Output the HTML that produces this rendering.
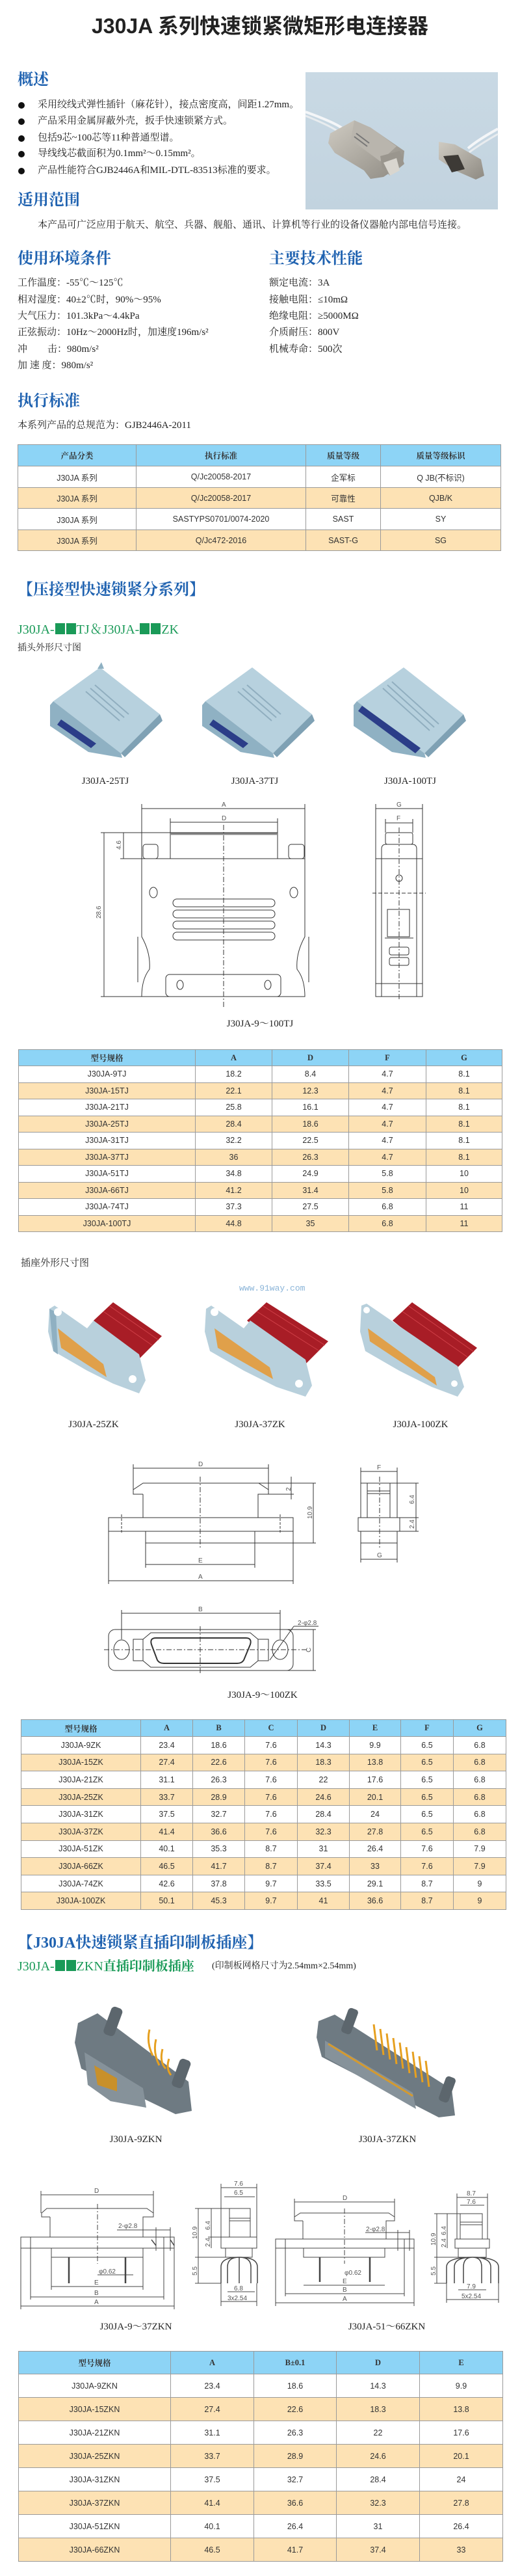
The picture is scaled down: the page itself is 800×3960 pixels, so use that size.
<!DOCTYPE html>
<html><head><meta charset="utf-8">
<style>
*{margin:0;padding:0;box-sizing:border-box}
body{width:800px;height:3960px;background:#fff;position:relative;overflow:hidden;font-family:"Liberation Serif","Noto Serif CJK SC",serif;color:#222}
.t{position:absolute;white-space:nowrap;line-height:1}
.h{font-family:"Liberation Serif","Noto Serif CJK SC",serif;font-weight:bold;color:#1f62b0;font-size:24px}
.b{font-size:15px}
.dot{position:absolute;left:28px;width:10px;height:10px;border-radius:50%;background:#111}
.g{color:#1a9a58;font-size:20px}
.sq{display:inline-block;width:15px;height:17px;background:#1a9a58;margin:0 1px;vertical-align:-1px}
table{position:absolute;border-collapse:collapse;table-layout:fixed;font-family:"Liberation Sans Narrow","Liberation Sans","Noto Sans CJK SC",sans-serif;font-size:12.5px;color:#333}
td{border:1px solid #9a9a9a;text-align:center;padding:0;overflow:hidden;white-space:nowrap}
tr.hd td{background:#8dd4f6;font-family:"Liberation Serif","Noto Serif CJK SC",serif;font-weight:bold}
tr.o td{background:#fde2b4}
svg{position:absolute;left:0;top:0}
</style></head><body>

<svg width="800" height="3960" viewBox="0 0 800 3960">
<defs>
<linearGradient id="ph" x1="0" y1="0" x2="0" y2="1"><stop offset="0" stop-color="#c9d9e4"/><stop offset="1" stop-color="#c2d3df"/></linearGradient>
<linearGradient id="met" x1="0" y1="0" x2="1" y2="1"><stop offset="0" stop-color="#cfcbc2"/><stop offset="1" stop-color="#8e8a82"/></linearGradient>
</defs>
<!-- photo -->
<rect x="470" y="111" width="296" height="211" fill="url(#ph)"/>
<path d="M470 172 Q520 190 530 200" stroke="#f4f6f8" stroke-width="4" fill="none"/>
<path d="M470 178 Q515 196 525 206" stroke="#e8ecef" stroke-width="3" fill="none"/>
<path d="M766 198 Q735 215 720 228" stroke="#f4f6f8" stroke-width="4" fill="none"/>
<path d="M766 206 Q738 222 722 234" stroke="#e8ecef" stroke-width="3" fill="none"/>
<polygon points="508,205 545,185 570,196 622,232 620,252 590,272 570,275 560,262 515,235 505,220" fill="url(#met)"/>
<polygon points="545,185 570,196 610,225 585,248 540,215" fill="#b9b5ad"/>
<polygon points="585,240 615,232 622,252 600,270 588,258" fill="#9a968e"/>
<polygon points="590,250 610,243 615,262 600,270" fill="#d9d6cf"/>
<line x1="548" y1="205" x2="568" y2="220" stroke="#777" stroke-width="2"/>
<line x1="545" y1="210" x2="565" y2="225" stroke="#777" stroke-width="2"/>
<polygon points="675,218 700,222 740,245 745,270 732,276 700,262 675,245" fill="url(#met)"/>
<polygon points="682,240 705,238 715,260 695,265" fill="#3d3a36"/>

<!-- TJ images -->
<g id="tj1" transform="translate(74,1018)">
<polygon points="8,60 80,8 172,80 112,140" fill="#b7d1de"/>
<polygon points="8,60 112,140 114,147 62,138 3,98 3,66" fill="#8fb1c3"/>
<polygon points="172,80 176,90 118,146 112,140" fill="#7fa1b4"/>
<polygon points="14,96 66,132 74,125 20,88" fill="#2b3d88"/>
<line x1="58" y1="45" x2="110" y2="90" stroke="#90aebf" stroke-width="2"/>
<line x1="65" y1="40" x2="117" y2="85" stroke="#90aebf" stroke-width="2"/>
<line x1="72" y1="35" x2="124" y2="80" stroke="#90aebf" stroke-width="2"/>
<polygon points="76,10 82,0 86,10" fill="#8fb1c3"/>
</g>
<g transform="translate(308,1018)"><polygon points="8,60 80,8 172,80 112,140" fill="#b7d1de"/><polygon points="8,60 112,140 114,147 62,138 3,98 3,66" fill="#8fb1c3"/><polygon points="172,80 176,90 118,146 112,140" fill="#7fa1b4"/><polygon points="14,96 66,132 74,125 20,88" fill="#2b3d88"/><line x1="58" y1="45" x2="110" y2="90" stroke="#90aebf" stroke-width="2"/><line x1="65" y1="40" x2="117" y2="85" stroke="#90aebf" stroke-width="2"/><line x1="72" y1="35" x2="124" y2="80" stroke="#90aebf" stroke-width="2"/></g>
<g transform="translate(541,1018)"><polygon points="8,60 80,8 172,80 112,140" fill="#b7d1de"/><polygon points="8,60 112,140 114,147 62,138 3,98 3,66" fill="#8fb1c3"/><polygon points="172,80 176,90 118,146 112,140" fill="#7fa1b4"/><polygon points="10,75 98,140 106,132 16,67" fill="#2b3d88"/><line x1="48" y1="40" x2="120" y2="105" stroke="#90aebf" stroke-width="2"/><line x1="55" y1="35" x2="127" y2="100" stroke="#90aebf" stroke-width="2"/><line x1="62" y1="30" x2="134" y2="95" stroke="#90aebf" stroke-width="2"/></g>

<!-- TJ drawing -->
<g stroke="#333" stroke-width="1" fill="none">
<line x1="218" y1="1243" x2="469" y2="1243"/><line x1="218" y1="1236" x2="218" y2="1320"/><line x1="469" y1="1236" x2="469" y2="1320"/>
<line x1="262" y1="1264" x2="427" y2="1264"/><line x1="262" y1="1258" x2="262" y2="1280"/><line x1="427" y1="1258" x2="427" y2="1280"/>
<rect x="262" y="1280" width="165" height="40"/><line x1="262" y1="1282" x2="427" y2="1282" stroke="#888" stroke-width="3"/>
<rect x="220" y="1298" width="23" height="22" rx="4"/><rect x="444" y="1298" width="24" height="22" rx="4"/>
<path d="M218 1320 L469 1320 L469 1440 Q455 1465 457 1490 Q469 1505 469 1532 L218 1532 Q218 1505 230 1490 Q232 1465 218 1440 Z"/>
<ellipse cx="236" cy="1372" rx="6" ry="8"/><ellipse cx="452" cy="1372" rx="6" ry="8"/>
<rect x="266" y="1382" width="157" height="12" rx="6"/><rect x="266" y="1399" width="157" height="12" rx="6"/><rect x="266" y="1416" width="157" height="12" rx="6"/><rect x="266" y="1433" width="157" height="12" rx="6"/>
<rect x="255" y="1498" width="177" height="34" rx="6"/><ellipse cx="277" cy="1514" rx="5" ry="7"/><ellipse cx="412" cy="1514" rx="5" ry="7"/>
<line x1="212" y1="1440" x2="212" y2="1510"/><line x1="475" y1="1440" x2="475" y2="1510"/>
<line x1="344" y1="1268" x2="344" y2="1550" stroke-dasharray="8,3,2,3"/>
<line x1="160" y1="1280" x2="160" y2="1532"/><line x1="155" y1="1280" x2="262" y2="1280"/><line x1="155" y1="1532" x2="218" y2="1532"/>
<line x1="190" y1="1280" x2="190" y2="1320"/><line x1="185" y1="1320" x2="218" y2="1320"/>
<line x1="578" y1="1243" x2="650" y2="1243"/><line x1="578" y1="1236" x2="578" y2="1320"/><line x1="650" y1="1236" x2="650" y2="1320"/>
<line x1="593" y1="1265" x2="635" y2="1265"/><line x1="593" y1="1259" x2="593" y2="1280"/><line x1="635" y1="1259" x2="635" y2="1280"/>
<rect x="593" y="1280" width="42" height="18" rx="3"/>
<path d="M587 1532 L587 1305 Q587 1298 594 1298 L634 1298 Q641 1298 641 1305 L641 1532"/>
<rect x="578" y="1320" width="72" height="212"/>
<circle cx="614" cy="1350" r="5"/>
<line x1="573" y1="1373" x2="655" y2="1373" stroke-dasharray="6,3"/>
<rect x="596" y="1398" width="34" height="42"/><line x1="592" y1="1442" x2="636" y2="1442"/>
<rect x="599" y="1456" width="30" height="12" rx="3"/><rect x="599" y="1472" width="30" height="12" rx="3"/>
<line x1="578" y1="1512" x2="650" y2="1512"/>
<line x1="614" y1="1272" x2="614" y2="1538" stroke-dasharray="8,3,2,3"/>
</g>

<!-- ZK images -->
<g transform="translate(74,2002)">
<polygon points="70,28 100,0 175,52 135,92" fill="#a81d26"/>
<line x1="85" y1="14" x2="160" y2="66" stroke="#d04048" stroke-width="1"/><line x1="95" y1="6" x2="170" y2="58" stroke="#d04048" stroke-width="1"/>
<polygon points="2,10 10,5 60,40 70,28 140,80 150,120 140,140 100,125 60,105 8,75 0,45" fill="#b8d0dc"/>
<polygon points="15,40 85,95 90,115 20,70" fill="#e0a04a"/>
<polygon points="2,10 8,75 15,80 12,15" fill="#8fb0c2"/>
<circle cx="15" cy="15" r="6" fill="#fff"/><circle cx="130" cy="118" r="6" fill="#fff"/>
</g>
<g transform="translate(315,2002)">
<polygon points="65,28 95,0 190,60 150,100" fill="#a81d26"/>
<line x1="80" y1="14" x2="175" y2="74" stroke="#d04048"/><line x1="90" y1="6" x2="185" y2="66" stroke="#d04048"/>
<polygon points="2,10 10,5 60,40 70,28 155,88 165,128 155,145 110,130 60,105 8,75 0,45" fill="#b8d0dc"/>
<polygon points="15,40 100,100 105,118 20,70" fill="#e0a04a"/>
<circle cx="15" cy="15" r="6" fill="#fff"/><circle cx="145" cy="125" r="6" fill="#fff"/>
</g>
<g transform="translate(554,2002)">
<polygon points="50,28 80,0 180,70 145,105" fill="#a81d26"/>
<line x1="65" y1="14" x2="165" y2="84" stroke="#d04048"/><line x1="75" y1="6" x2="175" y2="76" stroke="#d04048"/>
<polygon points="2,5 10,2 150,98 160,130 150,145 110,130 60,105 8,75 0,45" fill="#b8d0dc"/>
<polygon points="12,40 115,115 118,128 15,60" fill="#e0a04a"/>
<circle cx="10" cy="12" r="5" fill="#fff"/><circle cx="145" cy="125" r="5" fill="#fff"/>
</g>

<!-- ZK drawing -->
<g stroke="#333" stroke-width="1" fill="none">
<line x1="205" y1="2257" x2="413" y2="2257"/><line x1="205" y1="2251" x2="205" y2="2290"/><line x1="413" y1="2251" x2="413" y2="2290"/>
<path d="M220 2297 L205 2297 L205 2290 L220 2280 L398 2280 L413 2290 L413 2297 L397 2297 L397 2333 M220 2297 L220 2333"/>
<rect x="167" y="2333" width="284" height="21"/>
<rect x="224" y="2354" width="168" height="18"/>
<line x1="187" y1="2328" x2="187" y2="2358" stroke-dasharray="4,2"/><line x1="431" y1="2328" x2="431" y2="2358" stroke-dasharray="4,2"/>
<line x1="308" y1="2270" x2="308" y2="2380" stroke-dasharray="8,3,2,3"/>
<line x1="482" y1="2280" x2="482" y2="2372"/><line x1="398" y1="2280" x2="486" y2="2280"/><line x1="392" y1="2372" x2="486" y2="2372"/>
<line x1="448" y1="2270" x2="448" y2="2305"/><line x1="413" y1="2297" x2="452" y2="2297"/>
<line x1="224" y1="2372" x2="224" y2="2410"/><line x1="392" y1="2372" x2="392" y2="2410"/><line x1="224" y1="2405" x2="392" y2="2405"/>
<line x1="167" y1="2354" x2="167" y2="2435"/><line x1="451" y1="2354" x2="451" y2="2435"/><line x1="167" y1="2430" x2="451" y2="2430"/>
<line x1="555" y1="2262" x2="611" y2="2262"/><line x1="555" y1="2256" x2="555" y2="2280"/><line x1="611" y1="2256" x2="611" y2="2280"/>
<rect x="555" y="2280" width="56" height="53"/><line x1="565" y1="2280" x2="565" y2="2333"/><line x1="600" y1="2280" x2="600" y2="2333"/>
<line x1="565" y1="2292" x2="600" y2="2292"/><line x1="565" y1="2296" x2="600" y2="2296"/>
<rect x="551" y="2333" width="64" height="21"/><rect x="555" y="2354" width="56" height="18"/>
<line x1="584" y1="2270" x2="584" y2="2380" stroke-dasharray="8,3,2,3"/>
<line x1="640" y1="2280" x2="640" y2="2354"/><line x1="611" y1="2280" x2="644" y2="2280"/><line x1="615" y1="2333" x2="644" y2="2333"/><line x1="615" y1="2354" x2="644" y2="2354"/>
<line x1="555" y1="2372" x2="555" y2="2402"/><line x1="611" y1="2372" x2="611" y2="2402"/><line x1="555" y1="2397" x2="611" y2="2397"/>
<line x1="187" y1="2480" x2="431" y2="2480"/><line x1="187" y1="2475" x2="187" y2="2520"/><line x1="431" y1="2475" x2="431" y2="2520"/>
<rect x="167" y="2505" width="284" height="63" rx="10"/>
<ellipse cx="187" cy="2536" rx="12" ry="15"/><ellipse cx="431" cy="2536" rx="12" ry="15"/>
<path d="M205 2520 L220 2520 L232 2510 L385 2510 L397 2520 L413 2520 L413 2553 L397 2553 L385 2563 L232 2563 L220 2553 L205 2553 Z"/>
<path d="M240 2518 L378 2518 Q388 2518 385 2528 L375 2552 Q372 2557 365 2557 L252 2557 Q245 2557 242 2552 L233 2528 Q230 2518 240 2518 Z" stroke-width="2"/>
<line x1="220" y1="2520" x2="220" y2="2553"/><line x1="397" y1="2520" x2="397" y2="2553"/>
<line x1="160" y1="2536" x2="475" y2="2536" stroke-dasharray="8,3,2,3"/>
<line x1="308" y1="2500" x2="308" y2="2575" stroke-dasharray="8,3,2,3"/>
<line x1="482" y1="2505" x2="482" y2="2568"/><line x1="440" y1="2505" x2="486" y2="2505"/><line x1="440" y1="2568" x2="486" y2="2568"/>
<line x1="415" y1="2552" x2="452" y2="2500"/><line x1="452" y1="2500" x2="490" y2="2500"/>
</g>

<!-- ZKN images -->
<g transform="translate(110,3080)">
<polygon points="10,30 40,15 180,120 185,165 160,170 15,100 5,60" fill="#6e7a82"/>
<polygon points="20,75 110,130 115,160 60,150 25,125" fill="#86929a"/>
<polygon points="35,95 70,115 70,135 40,125" fill="#c8902a"/>
<rect x="55" y="5" width="18" height="45" rx="6" fill="#5c666d" transform="rotate(20 64 27)"/>
<rect x="160" y="85" width="18" height="45" rx="6" fill="#5c666d" transform="rotate(20 169 107)"/>
<path d="M120 40 q-5 20 5 40 M130 55 q-5 20 5 40 M140 70 q-5 20 5 30 M150 85 q-5 15 3 25" stroke="#e6a020" stroke-width="3" fill="none"/>
</g>
<g transform="translate(485,3082)">
<polygon points="5,25 30,15 210,130 215,170 190,173 10,80 2,50" fill="#6e7a82"/>
<polygon points="15,55 150,135 155,160 15,80" fill="#86929a"/>
<line x1="20" y1="60" x2="150" y2="140" stroke="#d49a30" stroke-width="3"/>
<rect x="45" y="5" width="16" height="40" rx="5" fill="#5c666d" transform="rotate(20 53 25)"/>
<rect x="195" y="110" width="16" height="40" rx="5" fill="#5c666d" transform="rotate(20 203 130)"/>
<path d="M90 30 l5 40 M100 37 l5 40 M110 44 l5 40 M120 51 l5 40 M130 58 l5 40 M140 65 l5 40 M150 72 l5 40 M160 79 l5 40 M170 86 l5 40" stroke="#e6a020" stroke-width="3"/>
</g>

<!-- ZKN drawings -->
<g stroke="#444" stroke-width="1" fill="none">
<line x1="63" y1="3374" x2="236" y2="3374"/><line x1="63" y1="3368" x2="63" y2="3402"/><line x1="236" y1="3368" x2="236" y2="3402"/>
<path d="M77 3408 L64 3408 L64 3402 L72 3395 L226 3395 L236 3402 L236 3408 L220 3408 L220 3439 M77 3408 L77 3439"/>
<rect x="32" y="3439" width="236" height="17"/>
<rect x="79" y="3456" width="141" height="14"/>
<line x1="106" y1="3470" x2="106" y2="3510" stroke-width="2.5"/><line x1="193" y1="3470" x2="193" y2="3510" stroke-width="2.5"/>
<line x1="150" y1="3388" x2="150" y2="3480" stroke-dasharray="8,3,2,3"/>
<line x1="47" y1="3439" x2="47" y2="3535"/><line x1="252" y1="3439" x2="252" y2="3535"/>
<line x1="79" y1="3470" x2="79" y2="3520"/><line x1="220" y1="3470" x2="220" y2="3520"/>
<line x1="79" y1="3515" x2="220" y2="3515"/><line x1="47" y1="3531" x2="252" y2="3531"/><line x1="32" y1="3545" x2="268" y2="3545"/>
<line x1="32" y1="3456" x2="32" y2="3550"/><line x1="268" y1="3456" x2="268" y2="3550"/>
<line x1="180" y1="3428" x2="262" y2="3428"/><line x1="240" y1="3424" x2="240" y2="3460"/><line x1="262" y1="3424" x2="262" y2="3460"/>
<path d="M233 3443 L240 3452 M262 3443 L268 3452" stroke-width="1.5"/>
<line x1="150" y1="3497" x2="205" y2="3497"/>
<line x1="340" y1="3363" x2="395" y2="3363"/><line x1="345" y1="3377" x2="392" y2="3377"/><line x1="340" y1="3357" x2="340" y2="3439"/><line x1="395" y1="3357" x2="395" y2="3439"/>
<rect x="353" y="3395" width="32" height="44"/><line x1="353" y1="3410" x2="385" y2="3410"/><line x1="353" y1="3414" x2="385" y2="3414"/>
<rect x="340" y="3439" width="55" height="17"/><rect x="347" y="3456" width="41" height="14"/>
<path d="M368 3470 q-28 0 -28 15 l0 25 M368 3470 q-18 0 -18 15 l0 25 M368 3470 q18 0 18 15 l0 25 M368 3470 q28 0 28 15 l0 25 M368 3470 l0 40" stroke-width="1.5"/>
<line x1="305" y1="3395" x2="305" y2="3510"/><line x1="325" y1="3395" x2="325" y2="3456"/>
<line x1="300" y1="3395" x2="353" y2="3395"/><line x1="300" y1="3470" x2="347" y2="3470"/><line x1="300" y1="3510" x2="340" y2="3510"/><line x1="320" y1="3439" x2="340" y2="3439"/>
<line x1="340" y1="3510" x2="340" y2="3545"/><line x1="395" y1="3510" x2="395" y2="3545"/><line x1="350" y1="3523" x2="392" y2="3523"/><line x1="340" y1="3538" x2="395" y2="3538"/>
<!-- right set -->
<line x1="453" y1="3385" x2="607" y2="3385"/><line x1="453" y1="3380" x2="453" y2="3410"/><line x1="607" y1="3380" x2="607" y2="3410"/>
<path d="M466 3414 L453 3414 L453 3408 L462 3402 L598 3402 L607 3408 L607 3414 L594 3414 L594 3442 M466 3414 L466 3442"/>
<rect x="424" y="3442" width="213" height="14"/>
<rect x="467" y="3456" width="125" height="14"/>
<line x1="492" y1="3470" x2="492" y2="3508" stroke-width="2.5"/><line x1="569" y1="3470" x2="569" y2="3508" stroke-width="2.5"/>
<line x1="530" y1="3395" x2="530" y2="3480" stroke-dasharray="8,3,2,3"/>
<line x1="467" y1="3513" x2="592" y2="3513"/><line x1="439" y1="3526" x2="622" y2="3526"/><line x1="424" y1="3540" x2="637" y2="3540"/>
<line x1="424" y1="3456" x2="424" y2="3545"/><line x1="637" y1="3456" x2="637" y2="3545"/><line x1="439" y1="3442" x2="439" y2="3530"/><line x1="622" y1="3442" x2="622" y2="3530"/>
<line x1="562" y1="3432" x2="630" y2="3432"/><line x1="612" y1="3428" x2="612" y2="3460"/><line x1="630" y1="3428" x2="630" y2="3460"/>
<line x1="703" y1="3378" x2="750" y2="3378"/><line x1="708" y1="3390" x2="745" y2="3390"/><line x1="703" y1="3372" x2="703" y2="3442"/><line x1="750" y1="3372" x2="750" y2="3442"/>
<rect x="708" y="3403" width="34" height="39"/><line x1="708" y1="3416" x2="742" y2="3416"/><line x1="708" y1="3420" x2="742" y2="3420"/>
<rect x="700" y="3442" width="53" height="14"/><rect x="705" y="3456" width="43" height="14"/>
<path d="M727 3470 q-40 0 -40 15 l0 25 M727 3470 q-28 0 -28 15 l0 25 M727 3470 q-14 0 -14 15 l0 25 M727 3470 q14 0 14 15 l0 25 M727 3470 q28 0 28 15 l0 25 M727 3470 q40 0 40 15 l0 25" stroke-width="1.5"/>
<line x1="672" y1="3403" x2="672" y2="3510"/><line x1="688" y1="3403" x2="688" y2="3456"/>
<line x1="668" y1="3403" x2="708" y2="3403"/><line x1="668" y1="3470" x2="705" y2="3470"/><line x1="668" y1="3510" x2="687" y2="3510"/>
<line x1="687" y1="3510" x2="687" y2="3540"/><line x1="767" y1="3510" x2="767" y2="3540"/><line x1="705" y1="3520" x2="748" y2="3520"/><line x1="687" y1="3535" x2="767" y2="3535"/>
</g>
<g font-family="Liberation Sans,sans-serif" font-size="10" fill="#555" stroke="none">
<text x="341" y="1240">A</text><text x="341" y="1261">D</text><text x="610" y="1240">G</text><text x="610" y="1261">F</text>
<text x="155" y="1412" transform="rotate(-90 155 1412)">28.6</text><text x="186" y="1306" transform="rotate(-90 186 1306)">4.6</text>
<text x="305" y="2254">D</text><text x="480" y="2335" transform="rotate(-90 480 2335)">10.9</text><text x="447" y="2292" transform="rotate(-90 447 2292)">2</text>
<text x="305" y="2402">E</text><text x="305" y="2427">A</text><text x="305" y="2477">B</text>
<text x="580" y="2259">F</text><text x="580" y="2394">G</text><text x="637" y="2312" transform="rotate(-90 637 2312)">6.4</text><text x="637" y="2350" transform="rotate(-90 637 2350)">2.4</text>
<text x="458" y="2498">2-φ2.8</text><text x="478" y="2540" transform="rotate(-90 478 2540)">C</text>
<text x="145" y="3371">D</text><text x="182" y="3425">2-φ2.8</text><text x="152" y="3495">φ0.62</text>
<text x="145" y="3512">E</text><text x="145" y="3528">B</text><text x="145" y="3542">A</text>
<text x="360" y="3360">7.6</text><text x="360" y="3374">6.5</text><text x="360" y="3521">6.8</text><text x="350" y="3536">3x2.54</text>
<text x="303" y="3442" transform="rotate(-90 303 3442)">10.9</text><text x="323" y="3428" transform="rotate(-90 323 3428)">6.4</text><text x="323" y="3454" transform="rotate(-90 323 3454)">2.4</text><text x="303" y="3498" transform="rotate(-90 303 3498)">5.5</text>
<text x="527" y="3382">D</text><text x="563" y="3430">2-φ2.8</text><text x="530" y="3497">φ0.62</text>
<text x="527" y="3510">E</text><text x="527" y="3523">B</text><text x="527" y="3537">A</text>
<text x="718" y="3375">8.7</text><text x="718" y="3388">7.6</text><text x="718" y="3518">7.9</text><text x="710" y="3533">5x2.54</text>
<text x="670" y="3452" transform="rotate(-90 670 3452)">10.9</text><text x="686" y="3436" transform="rotate(-90 686 3436)">6.4</text><text x="686" y="3455" transform="rotate(-90 686 3455)">2.4</text><text x="670" y="3498" transform="rotate(-90 670 3498)">5.5</text>
</g>
</svg>

<div class="t" style="left:0;width:800px;text-align:center;top:24px;font-size:32px;font-weight:bold;font-family:'Liberation Sans','Noto Sans CJK SC',sans-serif;color:#222">J30JA 系列快速锁紧微矩形电连接器</div>

<div class="t h" style="left:27px;top:111px">概述</div>
<div class="dot" style="top:157px"></div><div class="t b" style="left:58px;top:154px">采用绞线式弹性插针（麻花针），接点密度高，间距1.27mm。</div>
<div class="dot" style="top:182px"></div><div class="t b" style="left:58px;top:179px">产品采用金属屏蔽外壳，扳手快速锁紧方式。</div>
<div class="dot" style="top:208px"></div><div class="t b" style="left:58px;top:205px">包括9芯~100芯等11种普通型谱。</div>
<div class="dot" style="top:232px"></div><div class="t b" style="left:58px;top:229px">导线线芯截面积为0.1mm²～0.15mm²。</div>
<div class="dot" style="top:258px"></div><div class="t b" style="left:58px;top:255px">产品性能符合GJB2446A和MIL-DTL-83513标准的要求。</div>

<div class="t h" style="left:27px;top:296px">适用范围</div>
<div class="t b" style="left:58px;top:339px">本产品可广泛应用于航天、航空、兵器、舰船、通讯、计算机等行业的设备仪器舱内部电信号连接。</div>

<div class="t h" style="left:27px;top:386px">使用环境条件</div>
<div class="t h" style="left:414px;top:386px">主要技术性能</div>
<div class="t b" style="left:27px;top:428px">工作温度：-55℃～125℃</div>
<div class="t b" style="left:27px;top:454px">相对湿度：40±2℃时，90%～95%</div>
<div class="t b" style="left:27px;top:479px">大气压力：101.3kPa～4.4kPa</div>
<div class="t b" style="left:27px;top:504px">正弦振动：10Hz～2000Hz时，加速度196m/s²</div>
<div class="t b" style="left:27px;top:530px">冲<span style="display:inline-block;width:31px"></span>击：980m/s²</div>
<div class="t b" style="left:27px;top:555px">加&nbsp;速&nbsp;度：980m/s²</div>
<div class="t b" style="left:414px;top:428px">额定电流：3A</div>
<div class="t b" style="left:414px;top:454px">接触电阻：≤10mΩ</div>
<div class="t b" style="left:414px;top:479px">绝缘电阻：≥5000MΩ</div>
<div class="t b" style="left:414px;top:504px">介质耐压：800V</div>
<div class="t b" style="left:414px;top:530px">机械寿命：500次</div>

<div class="t h" style="left:27px;top:605px">执行标准</div>
<div class="t b" style="left:27px;top:647px">本系列产品的总规范为：GJB2446A-2011</div>

<table style="left:27px;top:683px;width:743px">
<col style="width:182px"><col style="width:261px"><col style="width:115px"><col style="width:185px">
<tr class="hd" style="height:33px"><td>产品分类</td><td>执行标准</td><td>质量等级</td><td>质量等级标识</td></tr>
<tr style="height:33px"><td>J30JA 系列</td><td>Q/Jc20058-2017</td><td>企军标</td><td>Q JB(不标识)</td></tr>
<tr class="o" style="height:32px"><td>J30JA 系列</td><td>Q/Jc20058-2017</td><td>可靠性</td><td>QJB/K</td></tr>
<tr style="height:33px"><td>J30JA 系列</td><td>SASTYPS0701/0074-2020</td><td>SAST</td><td>SY</td></tr>
<tr class="o" style="height:32px"><td>J30JA 系列</td><td>Q/Jc472-2016</td><td>SAST-G</td><td>SG</td></tr>
</table>

<div class="t h" style="left:27px;top:895px">【压接型快速锁紧分系列】</div>
<div class="t g" style="left:27px;top:958px">J30JA-<span class="sq"></span><span class="sq"></span>TJ＆J30JA-<span class="sq"></span><span class="sq"></span>ZK</div>
<div class="t" style="left:27px;top:990px;font-size:14px">插头外形尺寸图</div>

<div class="t b" style="left:112px;width:100px;text-align:center;top:1194px">J30JA-25TJ</div>
<div class="t b" style="left:342px;width:100px;text-align:center;top:1194px">J30JA-37TJ</div>
<div class="t b" style="left:576px;width:110px;text-align:center;top:1194px">J30JA-100TJ</div>
<div class="t b" style="left:300px;width:200px;text-align:center;top:1567px">J30JA-9～100TJ</div>

<table style="left:28px;top:1613px;width:744px">
<col style="width:272px"><col style="width:118px"><col style="width:118px"><col style="width:119px"><col style="width:117px">
<tr class="hd" style="height:25px"><td>型号规格</td><td>A</td><td>D</td><td>F</td><td>G</td></tr>
<tr style="height:25.5px"><td>J30JA-9TJ</td><td>18.2</td><td>8.4</td><td>4.7</td><td>8.1</td></tr>
<tr class="o" style="height:25.5px"><td>J30JA-15TJ</td><td>22.1</td><td>12.3</td><td>4.7</td><td>8.1</td></tr>
<tr style="height:25.5px"><td>J30JA-21TJ</td><td>25.8</td><td>16.1</td><td>4.7</td><td>8.1</td></tr>
<tr class="o" style="height:25.5px"><td>J30JA-25TJ</td><td>28.4</td><td>18.6</td><td>4.7</td><td>8.1</td></tr>
<tr style="height:25.5px"><td>J30JA-31TJ</td><td>32.2</td><td>22.5</td><td>4.7</td><td>8.1</td></tr>
<tr class="o" style="height:25.5px"><td>J30JA-37TJ</td><td>36</td><td>26.3</td><td>4.7</td><td>8.1</td></tr>
<tr style="height:25.5px"><td>J30JA-51TJ</td><td>34.8</td><td>24.9</td><td>5.8</td><td>10</td></tr>
<tr class="o" style="height:25.5px"><td>J30JA-66TJ</td><td>41.2</td><td>31.4</td><td>5.8</td><td>10</td></tr>
<tr style="height:25.5px"><td>J30JA-74TJ</td><td>37.3</td><td>27.5</td><td>6.8</td><td>11</td></tr>
<tr class="o" style="height:25.5px"><td>J30JA-100TJ</td><td>44.8</td><td>35</td><td>6.8</td><td>11</td></tr>
</table>

<div class="t" style="left:32px;top:1935px;font-size:15px">插座外形尺寸图</div>
<div class="t" style="left:368px;top:1974px;font-size:13px;font-family:'Liberation Mono',monospace;color:#8ab4d8">www.91way.com</div>

<div class="t b" style="left:94px;width:100px;text-align:center;top:2183px">J30JA-25ZK</div>
<div class="t b" style="left:350px;width:100px;text-align:center;top:2183px">J30JA-37ZK</div>
<div class="t b" style="left:592px;width:110px;text-align:center;top:2183px">J30JA-100ZK</div>
<div class="t b" style="left:304px;width:200px;text-align:center;top:2599px">J30JA-9～100ZK</div>

<table style="left:32px;top:2643px;width:746px">
<col style="width:184px"><col style="width:80px"><col style="width:80px"><col style="width:81px"><col style="width:80px"><col style="width:79px"><col style="width:81px"><col style="width:81px">
<tr class="hd" style="height:26px"><td>型号规格</td><td>A</td><td>B</td><td>C</td><td>D</td><td>E</td><td>F</td><td>G</td></tr>
<tr style="height:26.6px"><td>J30JA-9ZK</td><td>23.4</td><td>18.6</td><td>7.6</td><td>14.3</td><td>9.9</td><td>6.5</td><td>6.8</td></tr>
<tr class="o" style="height:26.6px"><td>J30JA-15ZK</td><td>27.4</td><td>22.6</td><td>7.6</td><td>18.3</td><td>13.8</td><td>6.5</td><td>6.8</td></tr>
<tr style="height:26.6px"><td>J30JA-21ZK</td><td>31.1</td><td>26.3</td><td>7.6</td><td>22</td><td>17.6</td><td>6.5</td><td>6.8</td></tr>
<tr class="o" style="height:26.6px"><td>J30JA-25ZK</td><td>33.7</td><td>28.9</td><td>7.6</td><td>24.6</td><td>20.1</td><td>6.5</td><td>6.8</td></tr>
<tr style="height:26.6px"><td>J30JA-31ZK</td><td>37.5</td><td>32.7</td><td>7.6</td><td>28.4</td><td>24</td><td>6.5</td><td>6.8</td></tr>
<tr class="o" style="height:26.6px"><td>J30JA-37ZK</td><td>41.4</td><td>36.6</td><td>7.6</td><td>32.3</td><td>27.8</td><td>6.5</td><td>6.8</td></tr>
<tr style="height:26.6px"><td>J30JA-51ZK</td><td>40.1</td><td>35.3</td><td>8.7</td><td>31</td><td>26.4</td><td>7.6</td><td>7.9</td></tr>
<tr class="o" style="height:26.6px"><td>J30JA-66ZK</td><td>46.5</td><td>41.7</td><td>8.7</td><td>37.4</td><td>33</td><td>7.6</td><td>7.9</td></tr>
<tr style="height:26.6px"><td>J30JA-74ZK</td><td>42.6</td><td>37.8</td><td>9.7</td><td>33.5</td><td>29.1</td><td>8.7</td><td>9</td></tr>
<tr class="o" style="height:26.6px"><td>J30JA-100ZK</td><td>50.1</td><td>45.3</td><td>9.7</td><td>41</td><td>36.6</td><td>8.7</td><td>9</td></tr>
</table>

<div class="t h" style="left:27px;top:2975px">【J30JA快速锁紧直插印制板插座】</div>
<div class="t g" style="left:27px;top:3013px">J30JA-<span class="sq"></span><span class="sq"></span>ZKN<b style="font-weight:bold">直插印制板插座</b></div>
<div class="t" style="left:326px;top:3016px;font-size:14px">(印制板网格尺寸为2.54mm×2.54mm)</div>

<div class="t b" style="left:149px;width:120px;text-align:center;top:3282px">J30JA-9ZKN</div>
<div class="t b" style="left:536px;width:120px;text-align:center;top:3282px">J30JA-37ZKN</div>
<div class="t b" style="left:129px;width:160px;text-align:center;top:3570px">J30JA-9～37ZKN</div>
<div class="t b" style="left:515px;width:160px;text-align:center;top:3570px">J30JA-51～66ZKN</div>

<table style="left:28px;top:3614px;width:745px">
<col style="width:234px"><col style="width:128px"><col style="width:127px"><col style="width:128px"><col style="width:128px">
<tr class="hd" style="height:35px"><td>型号规格</td><td>A</td><td>B±0.1</td><td>D</td><td>E</td></tr>
<tr style="height:36px"><td>J30JA-9ZKN</td><td>23.4</td><td>18.6</td><td>14.3</td><td>9.9</td></tr>
<tr class="o" style="height:36px"><td>J30JA-15ZKN</td><td>27.4</td><td>22.6</td><td>18.3</td><td>13.8</td></tr>
<tr style="height:36px"><td>J30JA-21ZKN</td><td>31.1</td><td>26.3</td><td>22</td><td>17.6</td></tr>
<tr class="o" style="height:36px"><td>J30JA-25ZKN</td><td>33.7</td><td>28.9</td><td>24.6</td><td>20.1</td></tr>
<tr style="height:36px"><td>J30JA-31ZKN</td><td>37.5</td><td>32.7</td><td>28.4</td><td>24</td></tr>
<tr class="o" style="height:36px"><td>J30JA-37ZKN</td><td>41.4</td><td>36.6</td><td>32.3</td><td>27.8</td></tr>
<tr style="height:36px"><td>J30JA-51ZKN</td><td>40.1</td><td>26.4</td><td>31</td><td>26.4</td></tr>
<tr class="o" style="height:36px"><td>J30JA-66ZKN</td><td>46.5</td><td>41.7</td><td>37.4</td><td>33</td></tr>
</table>
</body></html>
